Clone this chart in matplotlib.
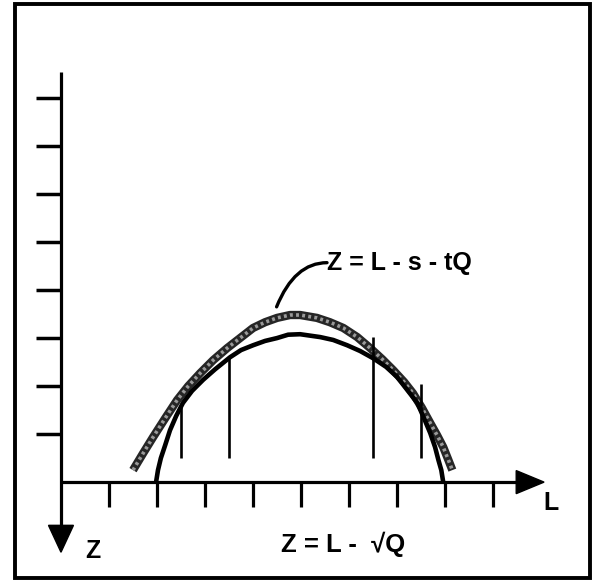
import matplotlib
matplotlib.use("Agg")
from matplotlib import pyplot as plt
from matplotlib.patches import Polygon, Rectangle

plt.rcParams['font.family'] = ['Liberation Sans', 'DejaVu Sans']

# axis tick positions (one unit per tick)
x_ticks = [1, 2, 3, 4, 5, 6, 7, 8, 9]
z_ticks = [1, 2, 3, 4, 5, 6, 7, 8]

# Z = L - s - tQ  (broad shaded curve)
L_line = [1.50, 1.71, 1.92, 2.17, 2.42, 2.65, 2.90, 3.17, 3.46, 3.73, 4.00, 4.25, 4.50, 4.77,
          4.98, 5.33, 5.60, 5.88, 6.17, 6.44, 6.69, 6.92, 7.15, 7.33, 7.52, 7.69, 7.83, 7.96,
          8.06, 8.15]
Z_line = [0.25, 0.60, 0.94, 1.33, 1.71, 2.00, 2.27, 2.54, 2.79, 3.00, 3.21, 3.33, 3.42, 3.48,
          3.48, 3.42, 3.33, 3.21, 3.02, 2.79, 2.56, 2.33, 2.08, 1.85, 1.54, 1.23, 0.98, 0.73,
          0.48, 0.25]

# Z = L - sqrt(Q)  (solid curve)
L_root = [1.98, 2.02, 2.08, 2.17, 2.27, 2.40, 2.54, 2.73, 2.96, 3.21, 3.52, 3.75, 4.00, 4.25,
          4.50, 4.73, 4.98, 5.40, 5.67, 5.96, 6.23, 6.50, 6.77, 7.00, 7.21, 7.42, 7.56, 7.69,
          7.79, 7.86, 7.92, 7.96]
Z_root = [0.00, 0.25, 0.50, 0.77, 1.08, 1.38, 1.65, 1.90, 2.13, 2.35, 2.60, 2.75, 2.85, 2.94,
          3.00, 3.07, 3.08, 3.02, 2.96, 2.85, 2.73, 2.58, 2.40, 2.19, 1.92, 1.65, 1.33, 1.02,
          0.73, 0.46, 0.25, 0.00]

# vertical markers under the curves
marker_L = [2.5, 3.5, 6.5, 7.5]
marker_top = [1.60, 2.62, 3.03, 2.04]
marker_bottom = 0.5

fig = plt.figure(figsize=(5.94, 5.82), dpi=100)
ax = fig.add_axes([0, 0, 1, 1])
ax.set_xlim(-1.27, 11.10)
ax.set_ylim(-2.08, 10.04)
ax.axis('off')

# frame around the diagram
ax.add_patch(Rectangle((0.0253, 0.0069), 0.968, 0.987, transform=ax.transAxes,
                       fill=False, lw=2.8, ec='black'))

# axes with arrows
ax.plot([0, 0], [8.54, -0.95], color='black', lw=2.3, solid_capstyle='butt')
ax.plot([0, 9.5], [0, 0], color='black', lw=2.3, solid_capstyle='butt')
ax.add_patch(Polygon([(9.48, -0.24), (10.06, 0.0), (9.48, 0.24)], closed=True, color='black'))
ax.add_patch(Polygon([(-0.26, -0.90), (0.0, -1.46), (0.26, -0.90)], closed=True, color='black'))

for k in z_ticks:
    ax.plot([-0.52, 0], [k, k], color='black', lw=2.5, solid_capstyle='butt')
for k in x_ticks:
    ax.plot([k, k], [0, -0.52], color='black', lw=2.3, solid_capstyle='butt')

# shaded curve: dark stroke with a light speckled core
ax.plot(L_line, Z_line, color='#262626', lw=6.0, solid_capstyle='butt', solid_joinstyle='round')
ax.plot(L_line, Z_line, color='#9a9a9a', lw=2.6, linestyle=(0, (0.8, 0.9)),
        dash_capstyle='butt')

# solid curve
ax.plot(L_root, Z_root, color='black', lw=3.3, solid_joinstyle='round', solid_capstyle='butt')

for x, top in zip(marker_L, marker_top):
    ax.plot([x, x], [marker_bottom, top], color='black', lw=1.9, solid_capstyle='butt')

# labels
ax.annotate('Z = L - s - tQ', xy=(4.49, 3.65), xytext=(5.54, 4.57),
            ha='left', va='center', fontsize=18, fontweight='bold',
            arrowprops=dict(arrowstyle='-', lw=2.4, color='black', patchA=None,
                            relpos=(0, 0.5), shrinkA=0, shrinkB=0,
                            connectionstyle='angle3,angleA=0,angleB=68'))
ax.text(5.88, -1.29, 'Z = L -  \u221aQ', ha='center', va='center', fontsize=18.5,
        fontweight='bold')
ax.text(0.66, -1.44, 'Z', ha='center', va='center', fontsize=18, fontweight='bold')
ax.text(10.21, -0.44, 'L', ha='center', va='center', fontsize=18, fontweight='bold')

fig.savefig('out.png', dpi=100)
